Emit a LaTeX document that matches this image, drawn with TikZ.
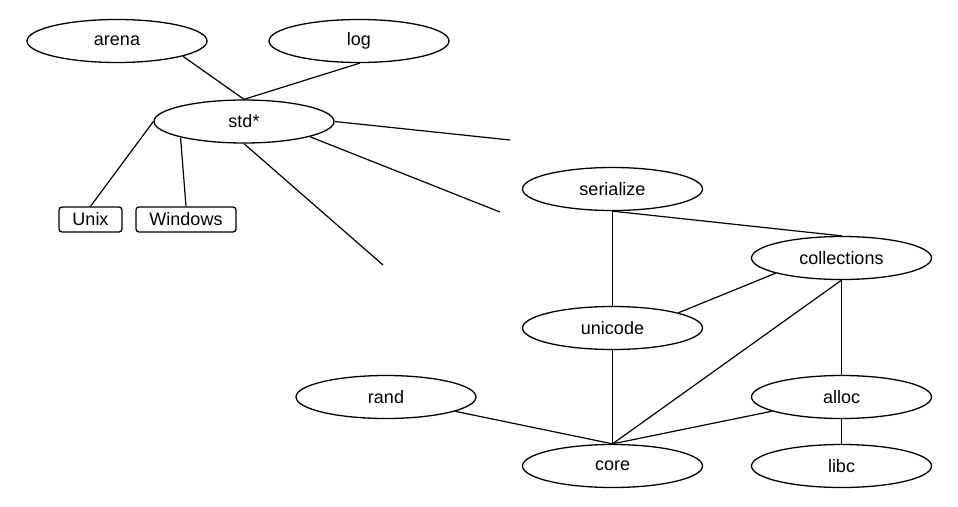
\documentclass[tikz,border=0pt]{standalone}
\usepackage{fontspec}
\setmainfont{Liberation Sans}
\usetikzlibrary{shapes.geometric}
\begin{document}
\begin{tikzpicture}[x=1pt,y=-1pt,
  every node/.style={font=\fontsize{18}{21}\selectfont},
  ell/.style={draw,ellipse,line width=1.3pt,minimum width=180pt,minimum height=43pt,inner sep=0pt},
  osbox/.style={draw,rectangle,rounded corners=3pt,line width=1.3pt,minimum height=25pt,inner sep=0pt},
  conn/.style={line width=1.2pt}]
\useasboundingbox (0,0) rectangle (958,506);
\node[ell] (arena) at (117,41) {arena};
\node[ell] (log) at (359,41) {log};
\node[ell] (std) at (244,121.5) {std*};
\node[osbox,minimum width=63pt] (unix) at (90.5,219.5) {Unix};
\node[osbox,minimum width=100pt] (windows) at (186,219.5) {Windows};
\coordinate (e1) at (510,140);
\coordinate (e2) at (500,212);
\coordinate (e3) at (383,265);
\node[ell] (serialize) at (612.5,189) {serialize};
\node[ell] (collections) at (841.5,258) {collections};
\node[ell] (unicode) at (612.5,328) {unicode};
\node[ell] (rand) at (386,397) {rand};
\node[ell] (alloc) at (841.5,397) {alloc};
\node[ell] (core) at (612.5,466) {core};
\node[ell] (libc) at (841.5,466) {libc};
\draw[conn] (arena.-13) -- (std.north);
\draw[conn] (log.-88) -- (std.north);
\draw[conn] (std.west) -- (unix.north);
\draw[conn] (std.194) -- (windows.north);
\draw[conn] (std.east) -- (e1);
\draw[conn] (std.-13) -- (e2);
\draw[conn] (std.south) -- (e3);
\draw[conn] (serialize.south) -- (unicode.north);
\draw[conn] (serialize.south) -- (collections.north);
\draw[conn] (collections.193) -- (unicode.13);
\draw[conn] (collections.south) -- (core.north);
\draw[conn] (collections.south) -- (alloc.north);
\draw[conn] (unicode.south) -- (core.north);
\draw[conn] (rand) -- (core.north);
\draw[conn] (alloc) -- (core.north);
\draw[conn] (alloc.south) -- (libc.north);
\end{tikzpicture}
\end{document}
